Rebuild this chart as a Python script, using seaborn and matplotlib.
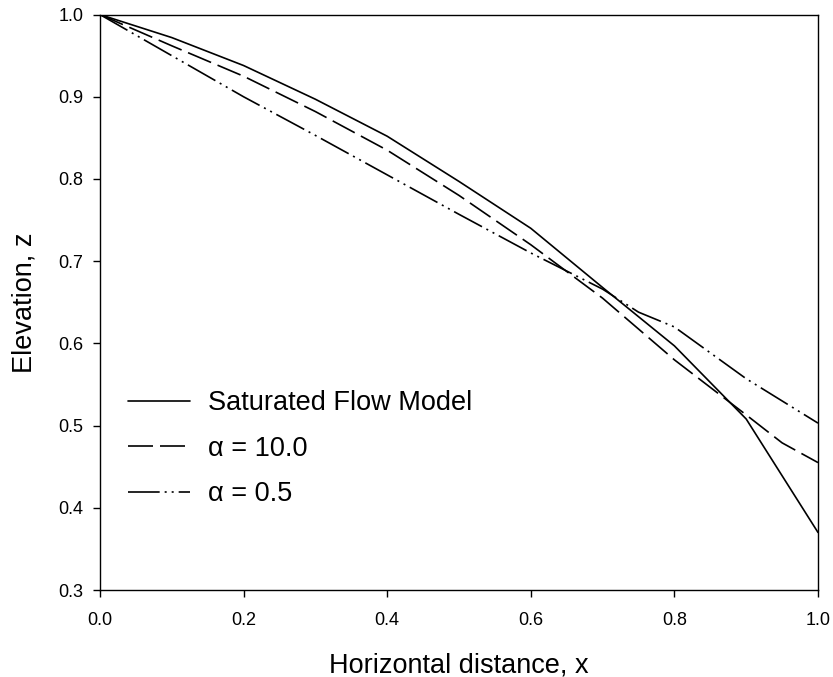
import matplotlib
matplotlib.use("Agg")
import matplotlib.pyplot as plt
import seaborn as sns
import pandas as pd

# Horizontal positions along the profile
x_sat = [0.0, 0.1, 0.2, 0.3, 0.4, 0.5, 0.6, 0.7, 0.8, 0.9, 1.0]
x_a10 = [0.0, 0.1, 0.2, 0.3, 0.4, 0.5, 0.6, 0.7, 0.8, 0.9, 0.95, 1.0]
x_a05 = [0.0, 0.1, 0.2, 0.3, 0.4, 0.5, 0.6, 0.7, 0.75, 0.8, 0.9, 1.0]

# Free-surface elevations
z_sat = [1.0, 0.972, 0.938, 0.897, 0.852, 0.797, 0.740, 0.668, 0.597, 0.508, 0.370]
z_a10 = [1.0, 0.962, 0.925, 0.882, 0.835, 0.780, 0.720, 0.655, 0.580, 0.513, 0.479, 0.455]
z_a05 = [1.0, 0.950, 0.900, 0.853, 0.805, 0.757, 0.710, 0.666, 0.638, 0.620, 0.557, 0.503]

labels = ["Saturated Flow Model", "\u03b1 = 10.0", "\u03b1 = 0.5"]
x_ticks = [0.0, 0.2, 0.4, 0.6, 0.8, 1.0]
y_ticks = [0.3, 0.4, 0.5, 0.6, 0.7, 0.8, 0.9, 1.0]

sns.set_style("ticks")
plt.rcParams["font.family"] = ["Liberation Sans", "DejaVu Sans"]
plt.rcParams["text.color"] = "black"
plt.rcParams["axes.labelcolor"] = "black"

fig = plt.figure(figsize=(8.33, 6.77), dpi=100)
ax = fig.add_axes([0.12, 0.1285, 0.862, 0.85])

lw = 1.2
styles = [
    "-",
    (0, (15, 4.2)),
    (0, (19, 3.0, 1.2, 3.0, 1.2, 3.0)),
]
series = [(x_sat, z_sat), (x_a10, z_a10), (x_a05, z_a05)]
for (xs, zs), lab, ls in zip(series, labels, styles):
    df = pd.DataFrame({"x": xs, "z": zs})
    sns.lineplot(data=df, x="x", y="z", ax=ax, color="black", linewidth=lw,
                 linestyle=ls, label=lab)

ax.set_xlim(0.0, 1.0)
ax.set_ylim(0.3, 1.0)
ax.set_xticks(x_ticks)
ax.set_yticks(y_ticks)
ax.set_xticklabels([f"{v:.1f}" for v in x_ticks])
ax.set_yticklabels([f"{v:.1f}" for v in y_ticks])
ax.tick_params(axis="both", direction="out", length=5, width=1.0,
               labelsize=13, colors="black")
ax.tick_params(axis="x", pad=10.5)
ax.tick_params(axis="y", pad=7)
for sp in ax.spines.values():
    sp.set_visible(True)
    sp.set_linewidth(1.0)
    sp.set_color("black")

ax.set_xlabel("Horizontal distance, x", fontsize=19.5, labelpad=17, color="black")
ax.set_ylabel("Elevation, z", fontsize=19.5, labelpad=15, color="black")

leg = ax.legend(loc="upper left", bbox_to_anchor=(0.039, 0.347), frameon=False,
                fontsize=19.5, handlelength=2.3, handletextpad=0.65,
                labelspacing=0.72, borderpad=0, borderaxespad=0,
                labelcolor="black")

fig.savefig("out.png", dpi=100)
